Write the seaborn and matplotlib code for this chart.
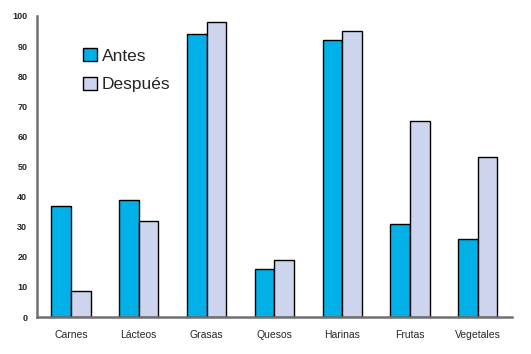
import matplotlib
matplotlib.use("Agg")
import matplotlib.pyplot as plt
import seaborn as sns
import pandas as pd
import numpy as np

categories = ["Carnes", "Lácteos", "Grasas", "Quesos", "Harinas", "Frutas", "Vegetales"]
antes = [37, 39, 94, 16, 92, 31, 26]
despues = [8.7, 32, 98, 19, 95, 65, 53]
series = ["Antes", "Después"]
yticks = [0, 10, 20, 30, 40, 50, 60, 70, 80, 90, 100]

df = pd.DataFrame({
    "cat": categories * 2,
    "val": antes + despues,
    "serie": [series[0]] * len(categories) + [series[1]] * len(categories),
})

sns.set_style("white")
plt.rcParams["font.family"] = ["Liberation Sans", "DejaVu Sans"]

fig = plt.figure(figsize=(5.31, 3.54), dpi=100)
ax = fig.add_axes([0.0697, 0.1045, 0.894, 0.8505])

sns.barplot(data=df, x="cat", y="val", hue="serie", order=categories,
            hue_order=series, palette=["#00B0E6", "#CDD4EE"], width=0.58,
            edgecolor="black", linewidth=1, ax=ax, saturation=1)

ax.set_xlim(-0.5, len(categories) - 0.5)
ax.set_ylim(0, 100)
ax.set_yticks(yticks)
ax.set_yticklabels([str(v) for v in yticks], fontsize=6.5, fontweight="bold")
ax.set_xlabel("")
ax.set_ylabel("")
ax.set_xticks(range(len(categories)))
ax.set_xticklabels(categories, fontsize=7.5)
ax.tick_params(axis="x", which="major", length=0, pad=9)
ax.set_xticks(np.arange(0.5, len(categories) - 0.5, 1), minor=True)
ax.tick_params(axis="x", which="minor", length=4, width=1.2, color="#707070", direction="out")
ax.tick_params(axis="y", length=4, width=1.2, color="#707070", direction="out", pad=3)
for s in ["top", "right"]:
    ax.spines[s].set_visible(False)
for s in ["left", "bottom"]:
    ax.spines[s].set_color("#707070")
    ax.spines[s].set_linewidth(1.8)

leg = ax.legend(loc="upper left", bbox_to_anchor=(0.064, 0.945), frameon=False,
                fontsize=12.5, handlelength=0.8, handleheight=0.8,
                handletextpad=0.3, labelspacing=0.75)

fig.savefig("out.png", dpi=100)
